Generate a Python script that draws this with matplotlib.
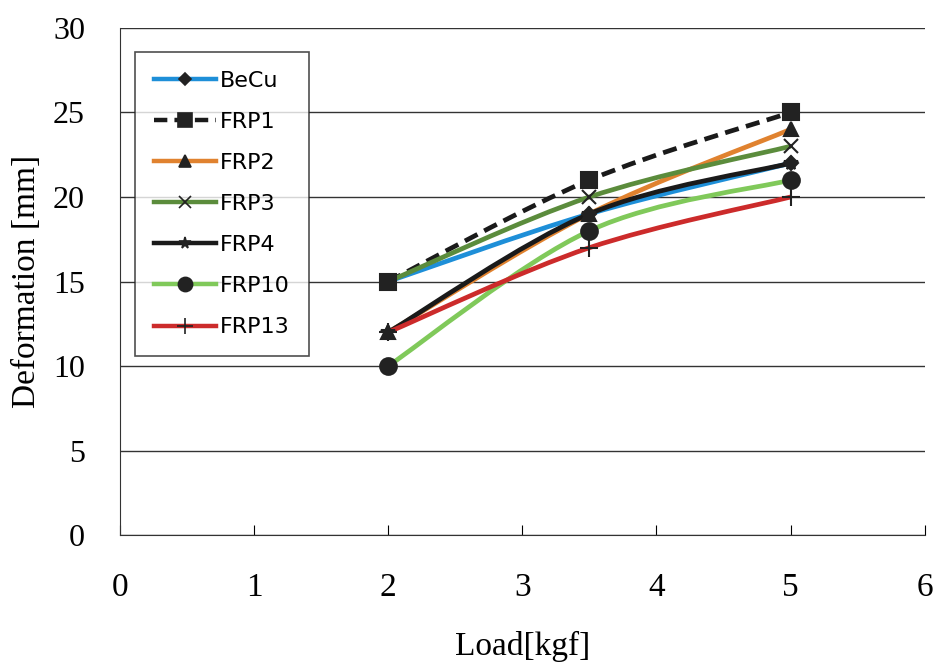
import numpy as np
import matplotlib.pyplot as plt
from matplotlib.path import Path
from matplotlib.patches import PathPatch
from matplotlib.lines import Line2D

# Data
load = [2, 3.5, 5]
names = ["BeCu", "FRP1", "FRP2", "FRP3", "FRP4", "FRP10", "FRP13"]
becu = [15, 19, 22]
frp1 = [15, 21, 25]
frp2 = [12, 19, 24]
frp3 = [15, 20, 23]
frp4 = [12, 19, 22]
frp10 = [10, 18, 21]
frp13 = [12, 17, 20]
series = [becu, frp1, frp2, frp3, frp4, frp10, frp13]

colors = ["#1e8fd8", "#1a1a1a", "#e0822f", "#5b8c3c", "#1a1a1a", "#80c95a", "#cc2b2b"]
markers = ["D", "s", "^", "x", "*", "o", "+"]
msizes = [7, 12, 10, 10, 10, 12, 13]
styles = ["-", (0, (3, 1.6)), "-", "-", "-", "-", "-"]

plt.rcParams['font.family'] = ['Liberation Serif', 'DejaVu Serif']


def smooth_path(xs, ys):
    # Excel-style smoothed line: cubic Bezier between points
    pts = np.column_stack([xs, ys]).astype(float)
    n = len(pts)
    verts = [pts[0]]
    codes = [Path.MOVETO]
    for i in range(n - 1):
        p_prev = pts[max(i - 1, 0)]
        p0 = pts[i]
        p1 = pts[i + 1]
        p_next = pts[min(i + 2, n - 1)]
        c1 = p0 + (p1 - p_prev) / 6
        c2 = p1 - (p_next - p0) / 6
        verts += [c1, c2, p1]
        codes += [Path.CURVE4] * 3
    return Path(verts, codes)


fig = plt.figure(figsize=(9.36, 6.64), dpi=100)
ax = fig.add_axes([0.128, 0.194, 0.86, 0.764])

handles = []
for vals, name, c, m, ms, ls in zip(series, names, colors, markers, msizes, styles):
    patch = PathPatch(smooth_path(load, vals), fill=False, edgecolor=c,
                      lw=3.4, linestyle=ls, zorder=3)
    ax.add_patch(patch)
    ax.plot(load, vals, linestyle="none", marker=m, ms=ms, color="#222222",
            mec="#222222", mew=1.5, zorder=4)
    handles.append(Line2D([0], [0], color=c, lw=3.2, linestyle=ls, marker=m,
                          ms=ms * 0.85, mfc="#222222", mec="#222222", mew=1.2))

ax.set_xlim(0, 6)
ax.set_ylim(0, 30)
ax.set_xticks(range(0, 7))
ax.set_yticks(range(0, 31, 5))
ax.yaxis.grid(True, color="#333333", lw=1.0)
ax.set_axisbelow(True)
for s in ["top", "right"]:
    ax.spines[s].set_visible(False)
ax.spines["left"].set_color("#333333")
ax.spines["bottom"].set_color("#333333")
ax.tick_params(axis="x", direction="in", length=7, pad=27, labelsize=24)
ax.tick_params(axis="y", direction="out", length=0, pad=25, labelsize=23)

ax.set_xlabel("Load[kgf]", fontsize=24, labelpad=20)
ax.set_ylabel("Deformation [mm]", fontsize=24, labelpad=8)

leg = ax.legend(handles, names, loc="upper left", bbox_to_anchor=(0.0186, 0.953),
                prop={"family": "DejaVu Sans", "size": 16}, frameon=True,
                fancybox=False, edgecolor="#222222", handlelength=2.8,
                labelspacing=0.95, borderpad=0.85, handletextpad=0.2,
                borderaxespad=0)
leg.get_frame().set_linewidth(1.2)

fig.savefig("out.png", dpi=100, facecolor="white")
